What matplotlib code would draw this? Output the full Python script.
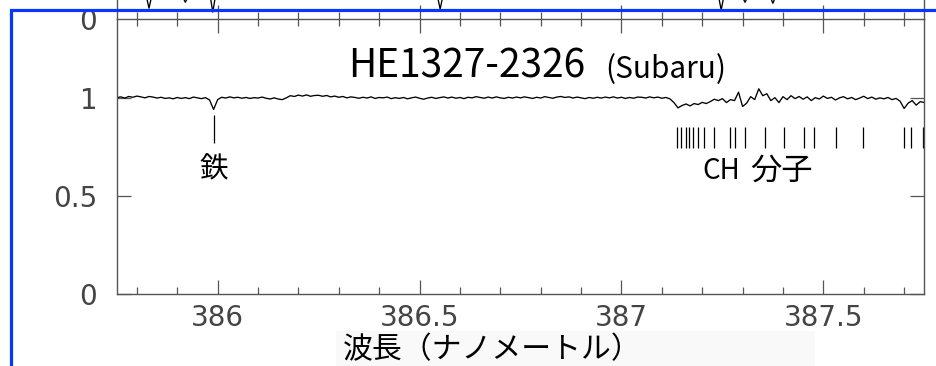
import numpy as np
import matplotlib.pyplot as plt
from matplotlib.patches import Rectangle
from matplotlib.ticker import MultipleLocator

W, H = 937, 366

# HE1327-2326, normalised flux every 0.01 nm from 385.75 to 387.75 nm
wave = np.linspace(385.75, 387.75, 201)
flux = [
    1.000, 1.004, 0.998, 1.006, 1.002, 1.008, 1.004, 0.999, 1.006, 1.003,
    0.998, 1.002, 0.996, 0.999, 0.994, 1.001, 0.996, 1.000, 0.995, 1.003,
    0.999, 0.995, 1.000, 0.988, 0.940, 0.990, 1.002, 0.998, 1.004, 0.999,
    1.002, 0.997, 1.001, 0.996, 1.000, 0.998, 1.003, 0.997, 0.993, 0.999,
    0.993, 0.990, 0.999, 1.010, 1.006, 1.013, 1.008, 1.014, 1.007, 1.011,
    1.012, 1.007, 1.011, 1.004, 1.008, 1.002, 1.006, 0.999, 1.004, 1.001,
    0.997, 1.002, 0.998, 1.004, 0.996, 1.001, 0.999, 1.003, 0.995, 1.000,
    0.996, 1.001, 0.994, 0.999, 1.003, 0.997, 0.992, 0.998, 1.002, 0.996,
    1.000, 1.004, 0.998, 1.003, 0.997, 1.001, 0.995, 1.002, 0.999, 1.005,
    1.001, 0.997, 1.003, 0.998, 1.004, 0.999, 0.996, 1.002, 0.998, 1.003,
    0.999, 1.004, 1.000, 0.996, 1.002, 0.998, 1.005, 1.001, 0.997, 1.003,
    1.006, 1.001, 1.004, 0.998, 1.003, 0.999, 0.995, 1.001, 0.997, 1.002,
    0.998, 1.003, 0.999, 1.004, 0.998, 1.002, 0.996, 1.001, 0.997, 1.003,
    1.002, 0.998, 1.004, 0.999, 1.003, 0.997, 1.001, 0.994, 0.975, 0.948,
    0.960, 0.968, 0.958, 0.970, 0.965, 0.976, 0.970, 0.980, 0.992, 0.985,
    0.995, 0.975, 0.990, 0.985, 1.028, 0.955, 0.972, 1.005, 0.990, 1.045,
    1.010, 1.020, 0.985, 1.000, 0.975, 1.005, 0.990, 1.010, 0.995, 1.006,
    0.992, 1.004, 0.985, 1.000, 0.993, 1.008, 0.996, 1.002, 0.988, 0.999,
    1.005, 0.994, 1.001, 0.990, 0.998, 1.007, 0.995, 1.003, 0.992, 0.999,
    0.994, 1.001, 0.990, 0.996, 0.982, 0.945, 0.972, 0.985, 0.962, 0.980,
    0.975,
]

# line identifications (nm)
fe_line = 385.99
ch_lines = [387.137, 387.147, 387.159, 387.168, 387.178, 387.190, 387.204,
            387.230, 387.270, 387.282, 387.307, 387.355, 387.403, 387.453,
            387.476, 387.532, 387.597, 387.699, 387.718, 387.746]

# spectrum of the panel above: only the deep line cores reach this far down
upper_wave = [385.75, 385.80, 385.824, 385.830, 385.836, 385.86,
              385.89, 385.914, 385.920, 385.926, 385.95,
              385.958, 385.982, 385.988, 385.994, 386.02,
              386.52, 386.545, 386.551, 386.557, 386.58,
              387.217, 387.241, 387.247, 387.253, 387.276,
              387.282, 387.300, 387.306, 387.312, 387.336,
              387.345, 387.369, 387.375, 387.381, 387.405, 387.75]
upper_flux = [1.0, 1.0, 0.11, 0.055, 0.11, 1.0,
              1.0, 0.11, 0.085, 0.11, 1.0,
              1.0, 0.11, 0.035, 0.11, 1.0,
              1.0, 0.11, 0.05, 0.11, 1.0,
              1.0, 0.11, 0.045, 0.11, 1.0,
              1.0, 0.11, 0.085, 0.11, 1.0,
              1.0, 0.11, 0.08, 0.11, 1.0, 1.0]

xticks = [386, 386.5, 387, 387.5]
xtick_labels = ['386', '386.5', '387', '387.5']
yticks = [0, 0.5, 1]
ytick_labels = ['0', '0.5', '1']

jp = 'Noto Sans CJK JP'
axis_col = '#555555'
label_col = '#444444'

fig = plt.figure(figsize=(W / 100, H / 100), dpi=100)

x0, x1 = 116.7, 924.3
yb, yt = 294.3, 19.0
ax = fig.add_axes([x0 / W, 1 - yb / H, (x1 - x0) / W, (yb - yt) / H])
ax.plot(wave, flux, color='black', lw=0.95)
ax.set_xlim(385.75, 387.75)
ax.set_ylim(0, 1.4)

ax.set_xticks(xticks, xtick_labels)
ax.xaxis.set_minor_locator(MultipleLocator(0.1))
ax.set_yticks(yticks, ytick_labels)
ax.tick_params(axis='both', which='both', direction='in', color=axis_col,
               width=0.9, top=True, right=True, labelcolor=label_col,
               labelsize=20, labelfontfamily='DejaVu Sans')
ax.tick_params(which='major', length=10)
ax.tick_params(which='minor', length=5)
ax.tick_params(axis='x', pad=7)
ax.tick_params(axis='y', pad=14)
for s in ax.spines.values():
    s.set_color(axis_col)
    s.set_linewidth(1.0)

# line markers
ax.vlines(fe_line, 0.770, 0.913, color='black', lw=0.9)
ax.vlines(ch_lines, 0.746, 0.853, color='black', lw=0.9)
ax.text(fe_line, 0.637, '鉄', ha='center', va='center', fontsize=20.5, family=jp)
ax.text(387.1995, 0.628, 'CH', ha='left', va='center', fontsize=20, family=jp)
ax.text(387.318, 0.628, '分子', ha='left', va='center', fontsize=22.5, family=jp)

# upper panel, mostly outside the figure
axu = fig.add_axes([x0 / W, 1 - yt / H, (x1 - x0) / W, (yb - yt) / H])
axu.plot(upper_wave, upper_flux, color='black', lw=0.95)
axu.set_xlim(385.75, 387.75)
axu.set_ylim(0, 1.4)
axu.set_xticks(xticks)
axu.xaxis.set_minor_locator(MultipleLocator(0.1))
axu.set_yticks([0], ['0'])
axu.tick_params(axis='x', which='both', direction='in', color=axis_col,
                width=0.9, labelbottom=False)
axu.tick_params(axis='x', which='major', length=10)
axu.tick_params(axis='x', which='minor', length=5)
axu.tick_params(axis='y', direction='in', length=0, pad=14, labelsize=20,
                labelcolor=label_col, labelfontfamily='DejaVu Sans')
axu.spines['bottom'].set_visible(False)
for s in axu.spines.values():
    s.set_color(axis_col)
    s.set_linewidth(1.0)
axu.patch.set_alpha(0)

fig.text(348 / W, 1 - 78 / H, 'HE1327-2326', fontsize=28, family=jp,
         va='baseline', ha='left')
fig.text(605 / W, 1 - 78 / H, '(Subaru)', fontsize=21.5, family=jp,
         va='baseline', ha='left')

fig.add_artist(Rectangle((336 / W, 0), (815 - 336) / W, (366 - 331) / H,
                         transform=fig.transFigure, fc='#f9f9f9', ec='none', zorder=0))
fig.text(343 / W, 1 - 350 / H, '波長（ナノメートル）', fontsize=21.5, family=jp,
         va='center', ha='left')

# frame round the figure
fig.add_artist(Rectangle((11.5 / W, -0.2), 1.2, 1.2 - 10 / H,
                         transform=fig.transFigure, fill=False, ec='#0a37ff',
                         lw=2.3, zorder=10))

fig.savefig('out.png', dpi=100)
